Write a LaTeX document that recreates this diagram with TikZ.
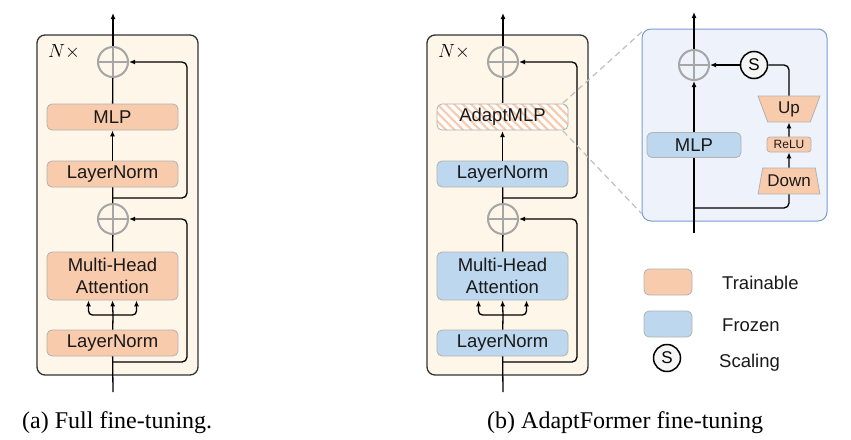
\RequirePackage{fix-cm}
\documentclass[tikz,border=0pt]{standalone}
\usepackage{fontspec}
\setmainfont{Liberation Sans}
\newfontfamily\capfont{Liberation Serif}
\usetikzlibrary{arrows.meta,shapes.geometric,patterns.meta}
\definecolor{orF}{HTML}{F8CBAD}
\definecolor{blF}{HTML}{BDD7EE}
\definecolor{cream}{HTML}{FDF6E9}
\definecolor{plusG}{HTML}{A6A6A6}
\definecolor{pnF}{HTML}{EEF2FA}
\definecolor{pnD}{HTML}{7C9BD0}
\begin{document}
\begin{tikzpicture}[x=1pt,y=-1pt,
 lab/.style={font=\fontsize{18.5}{21}\selectfont, text=black!90},
 box/.style={draw=gray!60, line width=0.8pt, rounded corners=5pt, minimum width=131pt, inner sep=0pt, align=center, text=black!90, font=\fontsize{18.5}{22}\selectfont},
 orng/.style={box, fill=orF},
 blu/.style={box, fill=blF},
 frm/.style={draw=black!80, line width=1.3pt, fill=cream, rounded corners=8pt, minimum width=161pt, minimum height=340pt, inner sep=0pt},
 pls/.style={circle, draw=plusG, fill=#1, line width=2pt, minimum size=30pt, inner sep=0pt, path picture={\draw[plusG, line width=2pt] (path picture bounding box.north) -- (path picture bounding box.south) (path picture bounding box.west) -- (path picture bounding box.east);}},
 pls/.default=cream,
 ln/.style={line width=1.3pt, black},
 arr/.style={ln, -{Latex[length=6pt,width=5pt]}},
 scl/.style={circle, draw=black, line width=1.5pt, fill=gray!8, minimum size=27pt, inner sep=0pt, font=\fontsize{17}{18}\selectfont},
 trap/.style={trapezium, trapezium angle=72, trapezium stretches=true, minimum width=62pt, minimum height=26pt, fill=orF, draw=gray!60, line width=0.8pt, inner sep=0pt, font=\fontsize{17}{18}\selectfont, text=black!90},
 dsh/.style={gray!50, line width=1.2pt, dash pattern=on 6pt off 4pt},
 capt/.style={anchor=base west, inner sep=0pt, font=\capfont\fontsize{24}{28}\selectfont}
]
\useasboundingbox (0,0) rectangle (851,439);

% ---------- panel (a) ----------
\node[frm] (aF) at (117.5,205) {};
\node[font=\fontsize{19}{22}\selectfont] (aN) at (64,52) {$N\times$};
\node[pls] (aP1) at (113,62) {};
\node[orng, minimum height=26pt] (aMLP) at (112.5,117) {MLP};
\node[orng, minimum height=26pt] (aLN1) at (112.5,174) {LayerNorm};
\node[pls] (aP2) at (113,219) {};
\node[orng, minimum height=48pt] (aMHA) at (112.5,276) {Multi-Head\\Attention};
\node[orng, minimum height=26pt] (aLN2) at (112.5,343) {LayerNorm};
\coordinate (aTop) at (113,13);
\coordinate (aBot) at (113,392);
\coordinate (aBr) at (113,315);
\coordinate (aS1) at (113,362);
\coordinate (aS2) at (113,198);
\coordinate (aC1) at (187,219);
\coordinate (aC2) at (187,62);
\draw[ln] (aBot) -- (aLN2);
\draw[ln] (aLN2) -- (aBr);
\draw[arr] (aBr) -- (aMHA.south);
\draw[arr, rounded corners=4pt] (aBr) -| ([xshift=-24pt]aMHA.south);
\draw[arr, rounded corners=4pt] (aBr) -| ([xshift=24pt]aMHA.south);
\draw[ln] (aMHA) -- (aP2);
\draw[ln] (aP2) -- (aLN1);
\draw[arr] (aLN1) -- (aMLP);
\draw[ln] (aMLP) -- (aP1);
\draw[arr] (aP1) -- (aTop);
\draw[arr, rounded corners=5pt] (aS1) -| (aC1) -- (aP2);
\draw[arr, rounded corners=5pt] (aS2) -| (aC2) -- (aP1);

% ---------- panel (b) ----------
\node[frm] (bF) at (507.5,205) {};
\node[font=\fontsize{19}{22}\selectfont] (bN) at (454,52) {$N\times$};
\node[pls] (bP1) at (503,62) {};
\node[box, minimum height=26pt, preaction={fill=white}, pattern={Lines[angle=-45,distance=6pt,line width=2.2pt]}, pattern color=orF] (bMLP) at (502.5,117) {AdaptMLP};
\node[blu, minimum height=26pt] (bLN1) at (502.5,174) {LayerNorm};
\node[pls] (bP2) at (503,219) {};
\node[blu, minimum height=48pt] (bMHA) at (502.5,276) {Multi-Head\\Attention};
\node[blu, minimum height=26pt] (bLN2) at (502.5,343) {LayerNorm};
\coordinate (bTop) at (503,13);
\coordinate (bBot) at (503,392);
\coordinate (bBr) at (503,315);
\coordinate (bS1) at (503,362);
\coordinate (bS2) at (503,198);
\coordinate (bC1) at (577,219);
\coordinate (bC2) at (577,62);
\draw[ln] (bBot) -- (bLN2);
\draw[ln] (bLN2) -- (bBr);
\draw[arr] (bBr) -- (bMHA.south);
\draw[arr, rounded corners=4pt] (bBr) -| ([xshift=-24pt]bMHA.south);
\draw[arr, rounded corners=4pt] (bBr) -| ([xshift=24pt]bMHA.south);
\draw[ln] (bMHA) -- (bP2);
\draw[ln] (bP2) -- (bLN1);
\draw[arr] (bLN1) -- (bMLP);
\draw[ln] (bMLP) -- (bP1);
\draw[arr] (bP1) -- (bTop);
\draw[arr, rounded corners=5pt] (bS1) -| (bC1) -- (bP2);
\draw[arr, rounded corners=5pt] (bS2) -| (bC2) -- (bP1);

% ---------- detail panel ----------
\node[draw=pnD, line width=1pt, fill=pnF, rounded corners=9pt, minimum width=185pt, minimum height=192pt, inner sep=0pt] (dF) at (734.5,125) {};
\node[pls=pnF] (dP) at (694,65) {};
\node[scl] (dS) at (754,65) {S};
\node[trap, shape border rotate=180] (dUp) at (789,109) {Up};
\node[trap] (dDown) at (789,181) {Down};
\node[orng, minimum width=44pt, minimum height=15pt, rounded corners=3pt, font=\fontsize{12}{14}\selectfont] (dRelu) at (789,144.5) {ReLU};
\coordinate (dTop) at (694,12);
\coordinate (dBot) at (694,233);
\coordinate (dJ) at (694,208);
\draw[arr] (dP) -- (dTop);
\draw[arr] (dBot) -- (dP);
\draw[ln, rounded corners=5pt] (dJ) -| (dDown);
\draw[arr] (dDown) -- (dRelu);
\draw[arr] (dRelu) -- (dUp);
\draw[ln, rounded corners=5pt] (dUp) |- (dS);
\draw[arr] (dS) -- (dP);
\node[blu, minimum width=94pt, minimum height=25pt] (dMLP) at (694,145) {MLP};

% zoom lines
\draw[dsh] ([xshift=-6pt]bMLP.north east) -- ([xshift=3pt,yshift=-1pt]dF.north west);
\draw[dsh] ([xshift=-6pt]bMLP.south east) -- ([yshift=8pt]dF.south west);

% ---------- legend ----------
\node[orng, minimum width=48pt, minimum height=26pt] (lgO) at (668,282) {};
\node[blu, minimum width=48pt, minimum height=26pt] (lgB) at (668,324) {};
\node[scl] (lgS) at (667,358) {S};
\node[lab, anchor=west, inner sep=0pt] (lgOt) at (722,283) {Trainable};
\node[lab, anchor=west, inner sep=0pt] (lgBt) at (722,325) {Frozen};
\node[lab, anchor=west, inner sep=0pt] (lgSt) at (719,363) {Scaling};

% ---------- captions ----------
\node[capt] (capA) at (22,428) {(a) Full fine-tuning.};
\node[capt] (capB) at (487,428) {(b) AdaptFormer fine-tuning};
\end{tikzpicture}
\end{document}
